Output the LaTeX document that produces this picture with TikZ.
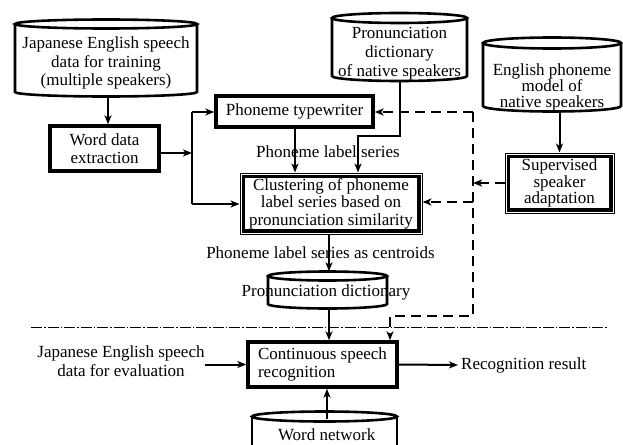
\documentclass[tikz,border=0pt]{standalone}
\usepackage{fontspec}
\setmainfont{Liberation Serif}
\usetikzlibrary{arrows.meta}
\tikzset{
  every node/.style={font=\fontsize{17}{18.5}\selectfont},
  tbox/.style={draw, line width=3.4pt, inner sep=0pt, align=center},
  dbox/.style={draw, line width=1pt, inner sep=0pt, align=center},
  cyl/.style={line width=2.6pt},
  conn/.style={line width=2pt, -{Stealth[length=9pt,width=7pt,inset=2.5pt]}},
  plain/.style={line width=2pt},
  dconn/.style={line width=2.2pt, dash pattern=on 10pt off 6pt},
  dtip/.style={-{Stealth[length=9pt,width=7pt,inset=2.5pt]}},
  ghost/.style={inner sep=0pt, draw=none},
  lbl/.style={inner sep=0pt, align=center}
}
\begin{document}
\begin{tikzpicture}[x=1pt,y=-1pt]
\useasboundingbox (0,0) rectangle (623,444);
\clip (0,0) rectangle (623,444);

% ---------- cylinder 1: training data
\draw[cyl] (106,24) ellipse [x radius=91, y radius=4.5];
\draw[cyl] (15,24) -- (15,92) arc[start angle=180, end angle=0, x radius=91, y radius=4.5] -- (197,24);
\node[ghost, minimum width=182pt, minimum height=77pt] (c1) at (106,58) {};
\node[lbl] (t1) at (106,63) {Japanese English speech\\data for training\\(multiple speakers)};

% ---------- cylinder 2: pronunciation dictionary of native speakers
\draw[cyl] (399.5,18) ellipse [x radius=67.5, y radius=5];
\draw[cyl] (332,18) -- (332,76) arc[start angle=180, end angle=0, x radius=67.5, y radius=5] -- (467,18);
\node[ghost, minimum width=135pt, minimum height=68pt] (c2) at (399.5,47) {};
\node[lbl, font=\fontsize{17}{19}\selectfont] (t2) at (399.5,54) {Pronunciation\\dictionary\\of native speakers};

% ---------- cylinder 3: English phoneme model
\draw[cyl] (552,43) ellipse [x radius=69, y radius=5.5];
\draw[cyl] (483,43) -- (483,106) arc[start angle=180, end angle=0, x radius=69, y radius=5.5] -- (621,43);
\node[ghost, minimum width=138pt, minimum height=74pt] (c3) at (552,74.5) {};
\node[lbl, font=\fontsize{17}{15.7}\selectfont] (t3) at (552,87.5) {English phoneme\\model of\\native speakers};

% ---------- boxes
\node[tbox, minimum width=109pt, minimum height=45pt] (wde) at (104.5,148.5) {Word data\\extraction};
\node[tbox, minimum width=157pt, minimum height=31pt] (pt) at (294.5,111.5) {Phoneme typewriter};
\node[dbox, minimum width=182pt, minimum height=61pt, font=\fontsize{17}{17.5}\selectfont] (cl) at (331,203.5) {Clustering of phoneme\\label series based on\\pronunciation similarity};
\draw[line width=3.2pt] ([shift={(3.6,3.6)}]cl.north west) rectangle ([shift={(-3.6,-3.6)}]cl.south east);
\node[dbox, minimum width=109pt, minimum height=60pt, font=\fontsize{17}{16.5}\selectfont] (sup) at (559.5,183) {Supervised\\speaker\\adaptation};
\draw[line width=3.2pt] ([shift={(3.6,3.6)}]sup.north west) rectangle ([shift={(-3.6,-3.6)}]sup.south east);

\node[lbl] (l1) at (328,152) {Phoneme label series};
\node[lbl] (l2) at (320.5,253) {Phoneme label series as centroids};

% ---------- cylinder 4: pronunciation dictionary
\draw[cyl] (327.5,276) ellipse [x radius=59.5, y radius=4.5];
\draw[cyl] (268,276) -- (268,304) arc[start angle=180, end angle=0, x radius=59.5, y radius=4.5] -- (387,276);
\node[ghost, minimum width=119pt, minimum height=37pt] (c4) at (327.5,290) {};
\node[lbl] (t4) at (326,292) {Pronunciation dictionary};

% ---------- separator
\draw[line width=0.8pt, dash pattern=on 11pt off 2pt on 1.5pt off 2pt] (31,327) coordinate (s1) -- (608,327) coordinate (s2);

% ---------- recognition part
\node[tbox, minimum width=149pt, minimum height=45pt, align=left] (csr) at (322.5,364.5) {Continuous speech\\recognition};
\node[lbl] (ev) at (121,361) {Japanese English speech\\data for evaluation};
\node[lbl, anchor=west, inner sep=3pt] (rr) at (458,365) {Recognition result};

% ---------- cylinder 5: word network
\draw[cyl] (324.5,416.5) ellipse [x radius=72.5, y radius=5];
\draw[cyl] (252,416.5) -- (252,460);
\draw[cyl] (397,416.5) -- (397,460);
\node[ghost, minimum width=145pt, minimum height=40pt] (wn) at (324.5,431.5) {};
\node[lbl] (t5) at (326.7,434.5) {Word network};
\coordinate (wntop) at (327,419);

% ---------- connectors
\draw[conn] (c1.south -| 108,0) -- (108,0 |- wde.north);
\coordinate (j1) at (192,112);
\coordinate (j2) at (192,153);
\coordinate (j3) at (192,204);
\draw[conn] (wde.east |- j2) -- (j2);
\draw[plain] (j1) -- (j3);
\draw[conn] (j1) -- (j1 -| pt.west);
\draw[conn] (j3) -- (j3 -| cl.west);
\draw[conn] (295,0 |- pt.south) -- (295,0 |- cl.north);

\coordinate (k1) at (400,136);
\coordinate (k2) at (358,136);
\draw[conn] (400,0 |- c2.south) -- (k1) -- (k2) -- (k2 |- cl.north);

\draw[conn] (c3.south -| sup.north) -- (sup.north);

\coordinate (d1) at (473,112);
\coordinate (d2) at (473,316);
\coordinate (d3) at (390,316);
\coordinate (d4) at (473,202);
\draw[dconn, dtip] (d1) -- (d1 -| pt.east);
\draw[dconn, dtip] (d1) -- (d2) -- (d3) -- (d3 |- csr.north);
\draw[dconn, dtip] (sup.west) -- (sup.west -| d1);
\draw[dconn, dtip] (d4) -- (d4 -| cl.east);

\draw[conn] (329,0 |- cl.south) -- (329,0 |- c4.north);
\draw[conn] (329,0 |- c4.south) -- (329,0 |- csr.north);
\draw[conn] (ev.east |- csr.west) -- (csr.west);
\draw[conn] (csr.east) -- (rr.west);
\draw[conn] (wntop) -- (wntop |- csr.south);
\end{tikzpicture}
\end{document}
